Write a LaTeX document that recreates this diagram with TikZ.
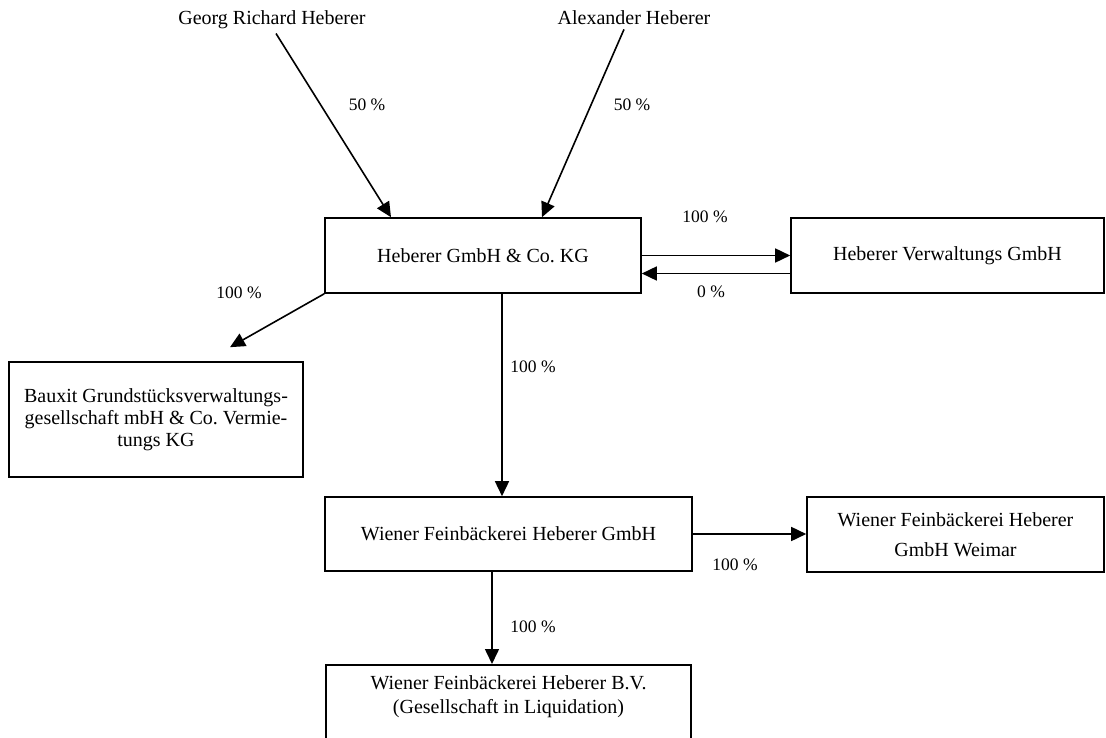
\documentclass[tikz,border=0pt]{standalone}
\usepackage{fontspec}
\setmainfont{Liberation Serif}
\usetikzlibrary{arrows.meta}
\begin{document}
\begin{tikzpicture}[x=1pt,y=-1pt,
  box/.style={draw, line width=1.6pt, inner sep=0pt, align=center, font=\fontsize{20pt}{24pt}\selectfont},
  lbl/.style={font=\fontsize{17.5pt}{21pt}\selectfont, inner sep=0pt},
  person/.style={font=\fontsize{20pt}{24pt}\selectfont, inner sep=0pt, anchor=base},
  arr/.style={line width=1.6pt, -{Triangle[length=15pt,width=14pt]}}]
\useasboundingbox (0,0) rectangle (1106,738);

% people
\node[person] (georg) at (272,25) {Georg Richard Heberer};
\node[person] (alex) at (634,25) {Alexander Heberer};

% boxes
\node[box, minimum width=316pt, minimum height=75pt] (main) at (483,255.5) {Heberer GmbH \& Co.\ KG};
\node[box, minimum width=313pt, minimum height=75pt] (verw) at (947.5,255.5) {Heberer Verwaltungs GmbH};
\node[box, minimum width=294pt, minimum height=115pt, font=\fontsize{20pt}{22pt}\selectfont] (bauxit) at (156,419.5)
  {Bauxit Grundstücksverwaltungs-\\gesellschaft mbH \& Co.\ Vermie-\\tungs KG};
\node[box, minimum width=367pt, minimum height=74pt] (wgmbh) at (508.5,534) {Wiener Feinbäckerei Heberer GmbH};
\node[box, minimum width=297pt, minimum height=75pt, font=\fontsize{20pt}{30pt}\selectfont] (weimar) at (955.5,534.5)
  {Wiener Feinbäckerei Heberer\\GmbH Weimar};
\node[box, anchor=north, minimum width=365pt, inner ysep=11pt, text depth=30pt] (bv) at (508.5,664)
  {Wiener Feinbäckerei Heberer B.V.\\(Gesellschaft in Liquidation)};

% connectors
\draw[arr] ([shift={(4pt,-4pt)}]georg.south) -- ([xshift=-92pt]main.north);
\draw[arr] ([shift={(-10pt,-4pt)}]alex.south) -- ([xshift=59pt]main.north);
\draw[arr] (main.east) -- (main.east -| verw.west);
\draw[arr] ([yshift=-18pt]verw.west) -- ([yshift=-18pt]verw.west -| main.east);
\draw[arr] (main.south west) -- ([shift={(74pt,14pt)}]bauxit.north);
\draw[arr] ([xshift=19pt]main.south) -- ([xshift=19pt]main.south |- wgmbh.north);
\draw[arr] (wgmbh.east) -- (wgmbh.east -| weimar.west);
\draw[arr] ([xshift=-16.5pt]wgmbh.south) -- ([xshift=-16.5pt]wgmbh.south |- bv.north);

% labels
\node[lbl] (l1) at (367,105) {50 \%};
\node[lbl] (l2) at (632,105) {50 \%};
\node[lbl] (l3) at (705,217) {100 \%};
\node[lbl] (l4) at (711,292) {0 \%};
\node[lbl] (l5) at (239,293) {100 \%};
\node[lbl] (l6) at (533,367) {100 \%};
\node[lbl] (l7) at (735,565) {100 \%};
\node[lbl] (l8) at (533,627) {100 \%};
\end{tikzpicture}
\end{document}
